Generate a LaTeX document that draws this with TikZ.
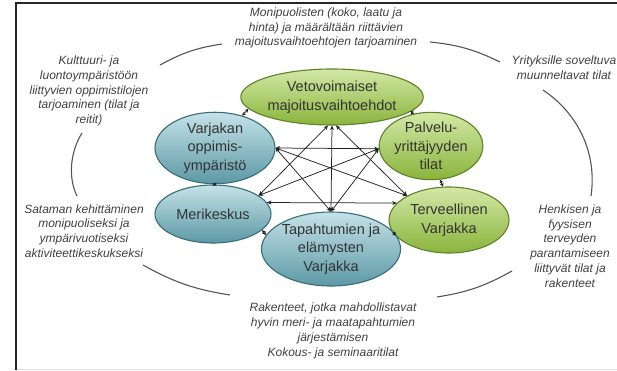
\documentclass[tikz,border=0pt]{standalone}
\usepackage{fontspec}
\setmainfont{Liberation Sans}
\usetikzlibrary{shapes.geometric,arrows.meta}
\definecolor{gtop}{HTML}{D3E8A6}
\definecolor{gbot}{HTML}{8AB43C}
\definecolor{gline}{HTML}{5E8228}
\definecolor{ttop}{HTML}{C5E2E8}
\definecolor{tbot}{HTML}{5C99A5}
\definecolor{tline}{HTML}{386E79}
\definecolor{etext}{HTML}{333333}
\definecolor{otext}{HTML}{404040}
\definecolor{arccol}{HTML}{555555}
\definecolor{arrcol}{HTML}{222222}
\begin{document}
\begin{tikzpicture}[x=1pt,y=-1pt,
  greenell/.style={ellipse, draw=gline, line width=1.1pt, top color=gtop, bottom color=gbot, inner sep=0pt, align=center, text=etext, font=\fontsize{14.5}{18.5}\selectfont},
  tealell/.style={ellipse, draw=tline, line width=1.1pt, top color=ttop, bottom color=tbot, inner sep=0pt, align=center, text=etext, font=\fontsize{14.5}{18.5}\selectfont},
  outer/.style={align=center, inner sep=0pt, text=otext, font=\fontsize{12}{14.8}\selectfont\itshape},
  dbl/.style={draw=arrcol, line width=0.75pt, {Stealth[length=4.5pt,width=4pt]}-{Stealth[length=4.5pt,width=4pt]}},
  sdbl/.style={draw=arrcol, line width=0.9pt, {Stealth[length=3.6pt,width=3.8pt]}-{Stealth[length=3.6pt,width=3.8pt]}},
  ringline/.style={draw=arccol, line width=1.1pt}
]
\useasboundingbox (0,0) rectangle (617,370);
% frame
\draw[line width=2pt, black!85] (16,370) -- (16,3) -- (617,3);
\draw[line width=1pt, black!12] (17,369) -- (617,369);

% ellipses
\node[greenell, minimum width=166pt, minimum height=56pt] (vet) at (332,97) {Vetovoimaiset\\majoitusvaihtoehdot};
\node[greenell, minimum width=96pt, minimum height=66pt] (pal) at (431,146) {Palvelu-\\yrittäjyyden\\tilat};
\node[greenell, minimum width=120pt, minimum height=66pt] (ter) at (449,220) {Terveellinen\\Varjakka};
\node[tealell, minimum width=128pt, minimum height=74pt] (tap) at (331,249) {Tapahtumien ja\\elämysten\\Varjakka};
\node[tealell, minimum width=116pt, minimum height=58pt] (mer) at (213,214) {Merikeskus};
\node[tealell, minimum width=120pt, minimum height=63pt] (var) at (215,148) {Varjakan\\oppimis-\\ympäristö};

% neighbour arrows
\draw[sdbl] (var.50) -- (vet.188);
\draw[sdbl] (vet.350) -- (pal.120);
\draw[sdbl] (pal.285) -- (ter.100);
\draw[sdbl] (ter.192) -- (tap.12);
\draw[sdbl] (tap.168) -- (mer.342);
\draw[sdbl] (mer.90) -- (var.272);

% star arrows
\draw[dbl] (vet.262) -- (mer.22);
\draw[dbl] (vet.270) -- (tap.90);
\draw[dbl] (vet.278) -- (ter.150);
\draw[dbl] (var.0) -- (pal.183);
\draw[dbl] (var.0) -- (ter.150);
\draw[dbl] (var.0) -- (tap.90);
\draw[dbl] (mer.22) -- (pal.183);
\draw[dbl] (mer.12) -- (ter.162);
\draw[dbl] (pal.183) -- (tap.90);

% outer texts
\node[outer] (ttop) at (326,28) {Monipuolisten (koko, laatu ja\\hinta) ja määrältään riittävien\\majoitusvaihtoehtojen tarjoaminen};
\node[outer] (tul) at (89,91) {Kulttuuri- ja\\luontoympäristöön\\liittyvien oppimistilojen\\tarjoaminen (tilat ja\\reitit)};
\node[outer] (tur) at (564,68) {Yrityksille soveltuva\\muunneltavat tilat};
\node[outer] (tr) at (570,246) {Henkisen ja\\fyysisen\\terveyden\\parantamiseen\\liittyvät tilat ja\\rakenteet};
\node[outer] (tl) at (84,231) {Sataman kehittäminen\\monipuoliseksi ja\\ympärivuotiseksi\\aktiviteettikeskukseksi};
\node[outer] (tb) at (333,331) {Rakenteet, jotka mahdollistavat\\hyvin meri- ja maatapahtumien\\järjestämisen\\Kokous- ja seminaaritilat};

% ring segments
\coordinate (r1a) at (160,65);  \coordinate (r1b) at (222,44);
\coordinate (r2a) at (430,42);  \coordinate (r2b) at (500,62);
\coordinate (r3a) at (543,90);  \coordinate (r3b) at (591,196);
\coordinate (r4a) at (512,271); \coordinate (r4b) at (437,297);
\coordinate (r5a) at (230,295); \coordinate (r5b) at (143,265);
\coordinate (r6a) at (82,133);  \coordinate (r6b) at (77,196);
\draw[ringline] (r1a) to[bend left=10] (r1b);
\draw[ringline] (r2a) to[bend left=10] (r2b);
\draw[ringline] (r3a) .. controls (580,115) and (597,155) .. (r3b);
\draw[ringline] (r4a) to[bend left=10] (r4b);
\draw[ringline] (r5a) to[bend left=10] (r5b);
\draw[ringline] (r6a) .. controls (70,152) and (68,178) .. (r6b);
\end{tikzpicture}
\end{document}
